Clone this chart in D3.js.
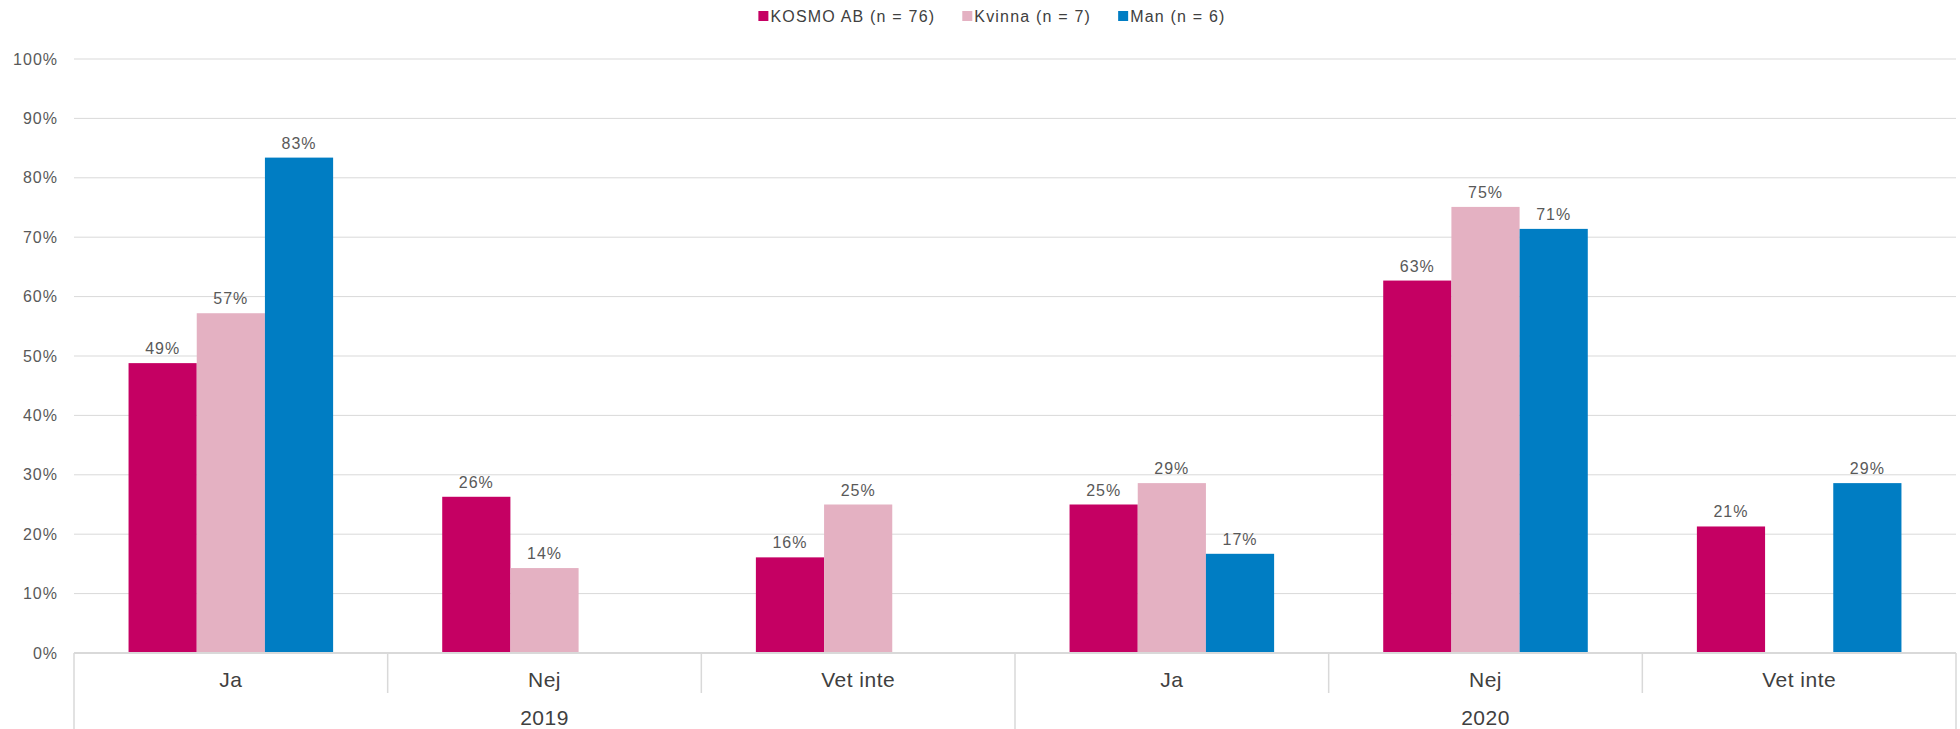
<!DOCTYPE html>
<html>
<head>
<meta charset="utf-8">
<script src="https://cdn.jsdelivr.net/npm/d3@7"></script>
<style>
  html, body { margin: 0; padding: 0; background: #ffffff; }
  svg { display: block; font-family: "Liberation Sans", Arial, sans-serif; }
</style>
</head>
<body>
<svg id="chart" width="1960" height="729"></svg>
<script>
// ---- data ----
const years = ["2019", "2020"];
const answers = ["Ja", "Nej", "Vet inte"];
const seriesNames = ["KOSMO AB (n = 76)", "Kvinna (n = 7)", "Man (n = 6)"];
const kosmoValues  = [48.8, 26.3, 16.1, 25.0, 62.7, 21.3];
const kvinnaValues = [57.2, 14.3, 25.0, 28.6, 75.1, null];
const manValues    = [83.4, null, null, 16.7, 71.4, 28.6];
const yTicks = [0, 10, 20, 30, 40, 50, 60, 70, 80, 90, 100];

const seriesValues = [kosmoValues, kvinnaValues, manValues];
const colors = ["#C50063", "#E4B1C2", "#007DC3"];

// categories: year x answer
const categories = [];
years.forEach(yr => answers.forEach(a => categories.push({ key: yr + "|" + a, year: yr, answer: a })));

const svg = d3.select("#chart");
const plotLeft = 74, plotRight = 1956, plotTop = 59, plotBottom = 653;

const x0 = d3.scaleBand().domain(categories.map(c => c.key)).range([plotLeft, plotRight]).padding(0);
const x1 = d3.scaleBand().domain(seriesNames).range([0, x0.bandwidth()]).paddingInner(0).paddingOuter(0.8);
const y = d3.scaleLinear().domain([0, 100]).range([plotBottom, plotTop]);

// gridlines
svg.append("g").selectAll("line").data(yTicks.filter(d => d > 0)).join("line")
  .attr("x1", plotLeft).attr("x2", plotRight)
  .attr("y1", d => y(d)).attr("y2", d => y(d))
  .attr("stroke", "#D9D9D9").attr("stroke-width", 1);

// y axis labels
const yAxis = svg.append("g").attr("transform", `translate(${plotLeft},0)`)
  .call(d3.axisLeft(y).tickValues(yTicks).tickFormat(d => d + "%").tickSize(0).tickPadding(16));
yAxis.select(".domain").remove();
yAxis.selectAll("text")
  .attr("fill", "#595959").style("font-size", "16px").style("letter-spacing", "1px")
  .style("font-family", "'Liberation Sans', Arial, sans-serif");

// bars
const barData = [];
categories.forEach((c, i) => {
  seriesNames.forEach((s, j) => {
    const v = seriesValues[j][i];
    if (v !== null) barData.push({ cat: c.key, series: s, value: v, color: colors[j] });
  });
});

svg.append("g").selectAll("rect").data(barData).join("rect")
  .attr("x", d => x0(d.cat) + x1(d.series))
  .attr("y", d => y(d.value))
  .attr("width", x1.bandwidth())
  .attr("height", d => y(0) - y(d.value))
  .attr("fill", d => d.color);

// data labels
svg.append("g").selectAll("text").data(barData).join("text")
  .attr("x", d => x0(d.cat) + x1(d.series) + x1.bandwidth() / 2)
  .attr("y", d => y(d.value) - 9)
  .attr("text-anchor", "middle")
  .attr("fill", "#595959")
  .style("font-size", "16px").style("letter-spacing", "1px")
  .text(d => Math.round(d.value) + "%");

// baseline
svg.append("line")
  .attr("x1", plotLeft).attr("x2", plotRight).attr("y1", y(0)).attr("y2", y(0))
  .attr("stroke", "#D9D9D9").attr("stroke-width", 2);

// category separators (short) and year separators (long)
const sepKeys = categories.map(c => c.key);
svg.append("g").selectAll("line").data(sepKeys).join("line")
  .attr("x1", d => x0(d)).attr("x2", d => x0(d))
  .attr("y1", y(0)).attr("y2", d => (answers.indexOf(d.split("|")[1]) === 0 ? 729 : 693))
  .attr("stroke", "#D9D9D9").attr("stroke-width", 1.5);
svg.append("line")
  .attr("x1", plotRight).attr("x2", plotRight).attr("y1", y(0)).attr("y2", 729)
  .attr("stroke", "#D9D9D9").attr("stroke-width", 1.5);

// category labels
const xAxis = svg.append("g").attr("transform", `translate(0,${y(0)})`)
  .call(d3.axisBottom(x0).tickFormat(k => k.split("|")[1]).tickSize(0).tickPadding(0));
xAxis.select(".domain").remove();
xAxis.selectAll("text")
  .attr("dy", null).attr("y", 34)
  .attr("fill", "#404040").style("font-size", "21px").style("letter-spacing", "0.5px")
  .style("font-family", "'Liberation Sans', Arial, sans-serif");

// year labels
svg.append("g").selectAll("text").data(years).join("text")
  .attr("x", yr => {
    const keys = categories.filter(c => c.year === yr).map(c => c.key);
    return (x0(keys[0]) + x0(keys[keys.length - 1]) + x0.bandwidth()) / 2;
  })
  .attr("y", 725)
  .attr("text-anchor", "middle")
  .attr("fill", "#404040").style("font-size", "21px").style("letter-spacing", "0.5px")
  .text(d => d);

// legend
const legend = svg.append("g");
const items = legend.selectAll("g").data(seriesNames).join("g");
items.append("rect").attr("x", 0).attr("y", 11).attr("width", 10).attr("height", 10)
  .attr("fill", (d, i) => colors[i]);
items.append("text").attr("x", 12).attr("y", 22)
  .attr("fill", "#404040").style("font-size", "16px").style("letter-spacing", "1.2px")
  .text(d => d);
let xpos = 0;
const positions = [];
items.each(function () {
  positions.push(xpos);
  const w = 12 + d3.select(this).select("text").node().getComputedTextLength();
  xpos += w + 27;
});
const totalW = xpos - 27;
const startX = 992 - totalW / 2;
items.attr("transform", (d, i) => `translate(${startX + positions[i]},0)`);
</script>
</body>
</html>
